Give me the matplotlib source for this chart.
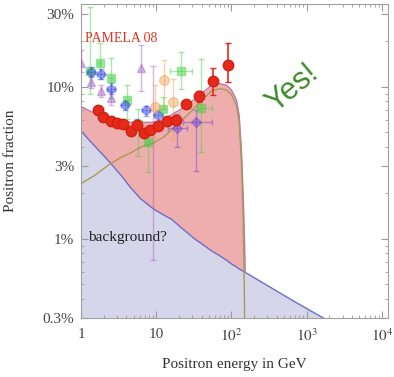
import matplotlib
matplotlib.use("Agg")
import matplotlib.pyplot as plt
import numpy as np
from matplotlib.ticker import FixedLocator, LogLocator, NullFormatter

plt.rcParams['font.family'] = ['Liberation Serif', 'DejaVu Serif']
plt.rcParams['mathtext.fontset'] = 'stix'

# model curves (energy grid in GeV, fractions)
E_curve = [1, 1.51, 2.33, 3.47, 4.51, 6.18, 9.12, 12.5, 16.0, 21.0, 28.5, 32.8, 38.2,
           54.4, 69.7, 86.0, 100.3, 116.7, 126.6, 135.4, 143.2, 148.7, 150.9, 151.9,
           330, 667, 1660, 2845]
background = [0.051, 0.0408, 0.0324, 0.0258, 0.0218, 0.0183, 0.0157, 0.0143, 0.0134,
              0.0119, 0.0105, 0.0099, 0.0094, 0.0083, 0.0077, 0.0072, 0.0068, 0.0065,
              0.0063, 0.0062, 0.0061, 0.0060, 0.0060, 0.0060, 0.00477, 0.00388, 0.003, 0.00257]
signal = [0.023, 0.026, 0.0305, 0.0345, 0.0365, 0.040, 0.0425, 0.0465, 0.052, 0.059,
          0.068, 0.073, 0.079, 0.094, 0.097, 0.095, 0.088, 0.075, 0.058, 0.032, 0.013,
          0.004, 0.001, 1e-6, 0, 0, 0, 0]

# PAMELA 08
pam_E = [1.664, 1.982, 2.476, 2.983, 3.646, 4.624, 5.50, 6.935, 8.261, 10.6, 13.77,
         18.46, 24.87, 37.34, 56.3, 90.6]
pam_f = [0.0705, 0.0630, 0.0595, 0.0578, 0.0566, 0.0510, 0.0563, 0.0494, 0.0522, 0.0554,
         0.0595, 0.0606, 0.0768, 0.0862, 0.1084, 0.1399]
pam_lo = [0.0705, 0.0630, 0.0595, 0.0578, 0.0566, 0.0510, 0.0563, 0.0494, 0.0522, 0.0554,
          0.0595, 0.0606, 0.0740, 0.0793, 0.0876, 0.1075]
pam_hi = [0.0705, 0.0630, 0.0595, 0.0578, 0.0566, 0.0510, 0.0563, 0.0494, 0.0522, 0.0554,
          0.0595, 0.0606, 0.0800, 0.0931, 0.1336, 0.1926]

# older experiments
tri_E = [1.0, 1.347, 1.828, 2.528, 6.33, 8.977]
tri_f = [0.144, 0.1075, 0.0931, 0.0842, 0.1317, 0.0543]
tri_lo = [0.125, 0.098, 0.085, 0.076, 0.0941, 0.00726]
tri_hi = [0.174, 0.118, 0.102, 0.093, 0.1868, 0.1359]

dia_E = [1.367, 1.828, 2.528, 3.813, 5.50, 7.376, 10.6]
dia_f = [0.1252, 0.1219, 0.0971, 0.0753, 0.0569, 0.0697, 0.0646]
dia_lo = [0.116, 0.113, 0.090, 0.070, 0.053, 0.064, 0.059]
dia_hi = [0.135, 0.131, 0.105, 0.081, 0.061, 0.075, 0.070]

pdia_E = [18.99, 33.78]
pdia_f = [0.0533, 0.0589]
pdia_Elo = [14.2, 22.94]
pdia_Ehi = [25.3, 54.65]
pdia_lo = [0.0399, 0.0279]
pdia_hi = [0.0662, 0.0697]

sq_E = [1.316, 1.776, 2.528, 4.125, 5.72, 7.84, 12.4, 21.13, 39.27]
sq_f = [0.1277, 0.1422, 0.1142, 0.0811, 0.0569, 0.0431, 0.0708, 0.1270, 0.0724]
sq_lo = [0.090, 0.113, 0.0836, 0.0613, 0.0349, 0.0273, 0.055, 0.0971, 0.0370]
sq_hi = [0.3367, 0.1927, 0.1553, 0.102, 0.0713, 0.0526, 0.085, 0.1701, 0.1518]
sq_Elo = [1.254, 1.695, 2.383, 3.885, 5.396, 7.387, 11.66, 15.26, 34.31]
sq_Ehi = [1.377, 1.859, 2.672, 4.364, 6.045, 8.281, 13.14, 29.59, 54.3]

circ_E = [9.63, 12.72, 16.54]
circ_f = [0.0735, 0.1101, 0.0792]
circ_lo = [0.045, 0.0714, 0.0453]
circ_hi = [0.1021, 0.1495, 0.1130]


def yerr(f, lo, hi):
    f = np.array(f)
    return [f - np.array(lo), np.array(hi) - f]


def xerr(E, lo, hi):
    E = np.array(E)
    return [E - np.array(lo), np.array(hi) - E]


fig = plt.figure(figsize=(3.94, 3.77), dpi=100)
ax = fig.add_axes([81 / 394, 59 / 377, 307 / 394, 314 / 377])
ax.set_xscale('log')
ax.set_yscale('log')

bg = np.array(background)
tot = bg + np.array(signal)
ax.fill_between(E_curve, 1e-5, bg, color='#d5d6ea', lw=0, zorder=1)
ax.fill_between(E_curve, bg, tot, where=np.array(signal) > 0, color='#eeaeae', lw=0, zorder=1)
ax.plot(E_curve, bg, color='#6f6cc6', lw=1.0, zorder=2)
n = signal.index(1e-6) + 1
ax.plot(E_curve[:n], tot[:n], color='#b77ab5', lw=1.0, zorder=2)
ax.plot(E_curve[:n], signal[:n], color='#a89a55', lw=1.0, zorder=3)

alpha = 0.45
ax.errorbar(tri_E, tri_f, yerr=yerr(tri_f, tri_lo, tri_hi), fmt='^', ms=6, color='#a560c0',
            alpha=alpha, capsize=2, lw=1, zorder=4)
ax.errorbar(sq_E, sq_f, yerr=yerr(sq_f, sq_lo, sq_hi), xerr=xerr(sq_E, sq_Elo, sq_Ehi), fmt='s',
            ms=6, color='#3ed23e', alpha=alpha, capsize=2, lw=1, zorder=4)
ax.errorbar(dia_E, dia_f, yerr=yerr(dia_f, dia_lo, dia_hi), fmt='D', ms=5, color='#3a4ae8',
            alpha=alpha, capsize=2, lw=1, zorder=4,
            xerr=[np.array(dia_E) * 0.12, np.array(dia_E) * 0.12])
ax.errorbar(pdia_E, pdia_f, yerr=yerr(pdia_f, pdia_lo, pdia_hi),
            xerr=xerr(pdia_E, pdia_Elo, pdia_Ehi), fmt='D', ms=5, color='#7040d8',
            alpha=alpha, capsize=2, lw=1, zorder=4)
ax.errorbar(circ_E, circ_f, yerr=yerr(circ_f, circ_lo, circ_hi), fmt='o', ms=7, color='#f0a050',
            alpha=alpha, capsize=2, lw=1, zorder=4)

ax.errorbar(pam_E, pam_f, yerr=yerr(pam_f, pam_lo, pam_hi), fmt='o', ms=7.5, color='#e52a1c',
            mec='#d02010', capsize=2.5, lw=1.2, zorder=5)

ax.set_xlim(1, 10 ** 4.08)
ax.set_ylim(0.003, 0.35)

ax.xaxis.set_major_locator(FixedLocator([1, 10, 100, 1000, 10000]))
ax.set_xticklabels(['1', '10', '$10^2$', '$10^3$', '$10^4$'])
ax.xaxis.set_minor_locator(LogLocator(base=10, subs=np.arange(2, 10), numticks=20))
ax.xaxis.set_minor_formatter(NullFormatter())
ax.yaxis.set_major_locator(FixedLocator([0.003, 0.01, 0.03, 0.1, 0.3]))
ax.set_yticklabels(['0.3%', '1%', '3%', '10%', '30%'])
ax.yaxis.set_minor_locator(LogLocator(base=10, subs=np.arange(2, 10), numticks=20))
ax.yaxis.set_minor_formatter(NullFormatter())

ax.tick_params(which='both', direction='in', top=True, right=True, color='#9a9a9a',
               labelsize=11, labelcolor='#444444')
ax.tick_params(which='major', length=5, width=0.8)
ax.tick_params(which='minor', length=2.5, width=0.6)
ax.tick_params(axis='x', pad=7)
ax.tick_params(axis='y', pad=5)
for s in ax.spines.values():
    s.set_color('#a0a0a0')
    s.set_linewidth(0.8)

ax.set_xlabel('Positron energy in GeV', fontsize=11, color='#333333')
ax.set_ylabel('Positron fraction', fontsize=11, color='#333333')
ax.xaxis.set_label_coords(0.5, -0.128)
ax.yaxis.set_label_coords(-0.209, 0.5)

ax.text(1.132, 0.208, 'PAMELA 08', color='#e23222', fontsize=10, ha='left', va='center', zorder=6)
ax.text(1.224, 0.0102, 'background?', color='#222222', fontsize=11, ha='left', va='center', zorder=6)
ax.text(650, 0.097, 'Yes!', color='#3f8c2a', fontsize=22, family='Liberation Sans',
        rotation=40, ha='center', va='center', rotation_mode='anchor', zorder=6)

fig.savefig('out.png', dpi=100)
